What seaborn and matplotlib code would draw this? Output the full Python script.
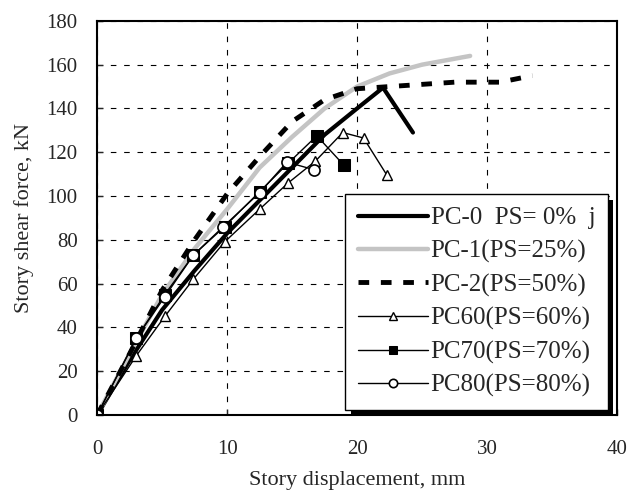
import seaborn as sns
import matplotlib.pyplot as plt
import matplotlib.patheffects as pe
import pandas as pd

# Data (displacement mm, shear force kN)
pc0_x = [0, 2.5, 5, 7.5, 10, 12.5, 15, 17.5, 20, 22, 24.3]
pc0_y = [0, 25, 48, 66, 83, 98, 113, 128, 140, 149.5, 129]

pc1_x = [0, 2.5, 5, 7.5, 10, 12.5, 15, 17.5, 20, 22.5, 25, 28.7]
pc1_y = [0, 28, 55, 76, 94, 113, 127, 140, 150, 156, 160, 164]

pc2_x = [0, 2.5, 5, 7.5, 10, 12.5, 15, 17.5, 20, 22.5, 25, 27.5, 31, 33.5]
pc2_y = [0, 28, 57, 80, 101, 118, 134, 144, 149, 150, 151, 152, 152, 155]

pc60_x = [0, 3, 5.2, 7.4, 9.8, 12.5, 14.7, 16.8, 18.9, 20.5, 22.3]
pc60_y = [0, 27, 45, 62, 79, 94, 106, 116, 129, 126.5, 109.5]

pc70_x = [0, 3, 5.2, 7.4, 9.8, 12.5, 14.7, 16.9, 19]
pc70_y = [0, 35, 55, 73, 86, 102, 115, 127.5, 114]

pc80_x = [0, 3, 5.2, 7.4, 9.7, 12.5, 14.6, 16.7]
pc80_y = [0, 35, 54, 73, 86, 101.5, 115.5, 112]

labels = ["PC-0  PS= 0%  j", "PC-1(PS=25%)", "PC-2(PS=50%)",
          "PC60(PS=60%)", "PC70(PS=70%)", "PC80(PS=80%)"]

sns.set_style("ticks")
plt.rcParams["font.family"] = ["Liberation Serif", "DejaVu Serif"]

fig = plt.figure(figsize=(6.27, 4.97), dpi=100)
ax = fig.add_axes([0.155, 0.165, 0.829, 0.793])

series = [
    (pc0_x, pc0_y, dict(color="black", linewidth=3.0)),
    (pc1_x, pc1_y, dict(color="#c4c4c4", linewidth=3.2)),
    (pc2_x, pc2_y, dict(color="black", linewidth=3.5, dashes=(2.2, 2.4))),
    (pc60_x, pc60_y, dict(color="black", linewidth=1.0, marker="^", markersize=7,
                          markerfacecolor="white", markeredgecolor="black", markeredgewidth=1.0)),
    (pc70_x, pc70_y, dict(color="black", linewidth=1.0, marker="s", markersize=8.5,
                          markerfacecolor="black", markeredgecolor="black")),
    (pc80_x, pc80_y, dict(color="black", linewidth=1.0, marker="o", markersize=8,
                          markerfacecolor="white", markeredgecolor="black", markeredgewidth=1.2)),
]

for (xs, ys, style), lab in zip(series, labels):
    df = pd.DataFrame({"disp": xs, "force": ys})
    dashes = style.pop("dashes", None)
    sns.lineplot(data=df, x="disp", y="force", sort=False, estimator=None,
                 ax=ax, label=lab, **style)
    if dashes is not None:
        ax.lines[-1].set_dashes(dashes)

ax.set_xlim(0, 40)
ax.set_ylim(0, 180)
ax.set_xticks(range(0, 41, 10))
ax.set_yticks(range(0, 181, 20))
ax.grid(True, color="black", linestyle=(0, (5, 7)), linewidth=0.8)
ax.tick_params(direction="in", length=4, width=1, labelsize=15)
ax.tick_params(axis="x", pad=18)
ax.tick_params(axis="y", pad=14)
for sp in ax.spines.values():
    sp.set_visible(True)
    sp.set_linewidth(1.5)
    sp.set_color("black")

ax.set_xlabel("Story displacement, mm", fontsize=16, labelpad=9)
ax.set_ylabel("Story shear force, kN", fontsize=16, labelpad=9)

leg = ax.legend(loc="lower left", bbox_to_anchor=(0.477, 0.013), fontsize=18,
                frameon=True, fancybox=False, handlelength=2.8, handletextpad=0.12,
                labelspacing=0.42, borderpad=0.5, borderaxespad=0, markerscale=0.75)
frame = leg.get_frame()
frame.set_edgecolor("black")
frame.set_linewidth(1.0)
frame.set_alpha(1)
frame.set_path_effects([pe.SimplePatchShadow(offset=(4, -4), shadow_rgbFace="black", alpha=1),
                        pe.Normal()])

fig.savefig("out.png", dpi=100)
